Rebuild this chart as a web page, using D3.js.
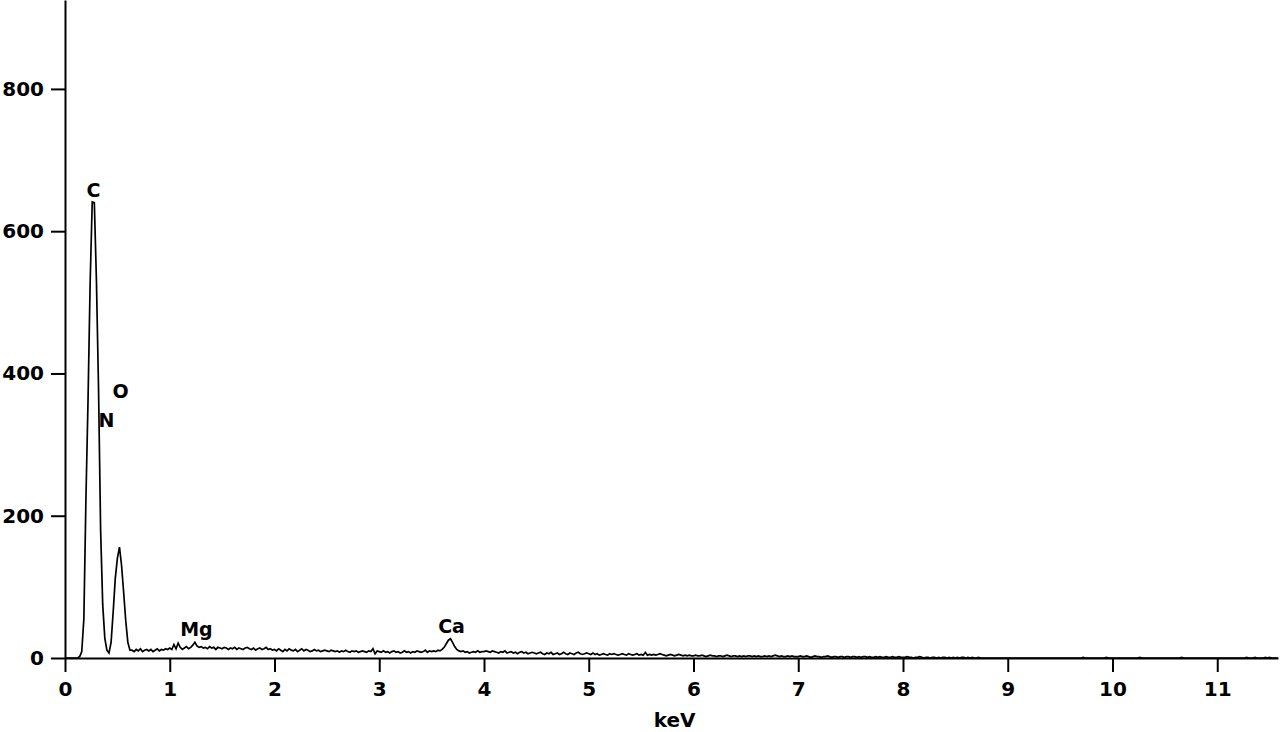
<!DOCTYPE html>
<html>
<head>
<meta charset="utf-8">
<script src="https://cdn.jsdelivr.net/npm/d3@7"></script>
<style>
  body { margin: 0; background: #fff; }
  svg { display: block; font-family: "DejaVu Sans", Verdana, sans-serif; }
</style>
</head>
<body>
<svg id="chart" width="1280" height="732"></svg>
<script>
//  channel width of the spectrum (keV)
const channel_kev = 0.02;

//  counts per channel, starting at 0 keV
const counts_peaks = [
  0, 0, 0, 0, 0, 0, 0, 2, 9, 55, 225, 363, 527, 641, 640, 531,
  380, 180, 75, 28, 11, 7, 22, 65, 112, 140, 156, 130, 92, 52, 22, 11
];
const counts_low = [
  11, 9, 12, 10, 13, 9, 11, 12, 10, 12, 9, 11, 13, 10, 12, 11, 13, 12,
  14, 12, 19, 13, 21, 15, 12, 14, 16, 13, 15, 18, 22, 17, 15, 16, 14, 15, 13, 16, 14, 15, 12, 15, 14,
  13, 15, 14, 12, 14, 13, 15, 12, 14, 13, 12, 14, 15, 13, 12, 14, 11, 13, 14, 12, 13, 15, 12, 13, 11,
  12, 10, 13, 11, 9, 12, 10, 13, 11, 10, 12, 9, 11, 13, 10, 12, 11, 9, 10, 12, 10, 11, 9, 10, 11,
  10, 9, 11, 10, 9, 10, 8, 10, 9, 11, 9, 8, 10, 9, 10, 8, 9, 10, 9, 8, 10, 9, 13, 6, 10,
  9, 8, 10, 8, 9, 7, 9, 10, 8, 9, 7, 8, 10, 8, 9, 7, 9, 8, 10, 9, 8, 9, 11, 8, 10,
  9, 10, 9, 11, 10, 12, 15, 20, 25, 27, 22, 16, 12, 10, 9, 10, 8, 9, 7, 8, 9, 8, 10, 8, 9,
  9, 10, 9, 8, 10, 9, 8, 7, 9, 8, 10, 7, 8, 9, 7, 8, 6, 8, 9, 7, 8, 6, 7, 8, 7,
  6, 7, 8, 6, 5, 7, 6, 8, 5, 6, 7, 5, 6, 8, 6, 5, 7, 6, 5, 7, 8, 6, 5, 6, 7
];
const counts_high = [
  6, 5, 7, 5, 6, 4, 5, 6, 5, 4, 6, 5, 6, 5, 4, 5, 6, 5, 4, 6, 5, 4, 5, 6, 4,
  5, 4, 8, 4, 5, 4, 5, 4, 5, 6, 5, 4, 3, 4, 5, 4, 3, 4, 5, 4, 3, 4, 3, 4, 3,
  3, 4, 3, 3, 4, 3, 2, 3, 4, 3, 3, 2, 3, 3, 2, 3, 4, 3, 2, 3, 3, 2, 3, 2, 3,
  2, 3, 3, 2, 3, 2, 3, 2, 2, 3, 2, 3, 2, 3, 4, 3, 2, 3, 2, 2, 3, 2, 3, 2, 2,
  2, 3, 2, 2, 3, 2, 1, 2, 3, 2, 2, 1, 2, 2, 3, 2, 1, 2, 2, 1, 2, 2, 1, 2, 2,
  1, 2, 2, 1, 2, 1, 2, 2, 1, 2, 1, 1, 2, 1, 2, 1, 1, 2, 1, 1, 2, 1, 1, 2, 1,
  1, 1, 2, 1, 1, 0, 1, 1, 2, 1, 0, 1, 1, 0, 1, 1, 0, 1, 0, 1, 1, 0, 1, 0, 1,
  0, 1, 0, 1, 1, 0, 1, 0, 1, 0, 0, 1, 0, 0, 0, 0, 0, 0, 0, 0, 0, 0, 0, 0, 0,
  0, 0, 0, 0, 0, 0, 0, 0, 0, 0, 0, 0, 0, 0, 0, 0, 0, 0, 0, 0, 0, 0, 0, 0, 0,
  0, 0, 0, 0, 0, 0, 0, 0, 0, 0, 0, 1, 0, 0, 0, 0, 0, 0, 0, 0, 0, 0, 1, 0, 0,
  0, 0, 0, 0, 0, 0, 0, 0, 0, 0, 0, 0, 0, 1, 0, 0, 0, 0, 0, 0, 0, 0, 0, 0, 0,
  0, 0, 0, 0, 0, 0, 0, 0, 1, 0, 0, 0, 0, 0, 0, 0, 0, 0, 0, 0, 0, 0, 0, 0, 0,
  0, 0, 0, 0, 0, 0, 0, 0, 0, 0, 0, 0, 0, 0, 1, 0, 0, 0, 1, 0, 0, 0, 0, 1, 0,
  1, 0, 0, 0, 0
];

//  element labels (energy in keV, label height in counts)
const element_names  = ["C", "N", "O", "Mg", "Ca"];
const element_kev    = [0.272, 0.396, 0.530, 1.255, 3.69];
const element_counts = [648, 325, 366, 31, 35];

const x_ticks = [0, 1, 2, 3, 4, 5, 6, 7, 8, 9, 10, 11];
const y_ticks = [0, 200, 400, 600, 800];
const x_max = 11.58;
const y_max = 925;
const x_title = "keV";

function draw_spectrum() {
  const margin = ({top: 0, right: 2, bottom: 74, left: 65});
  const w = 1280, h = 732;
  const svg = d3.select("#chart");

  const counts = counts_peaks.concat(counts_low, counts_high);
  const data = counts.map((c, i) => ({e: i * channel_kev, c: c}));

  const x = d3.scaleLinear().domain([0, x_max]).range([margin.left, w - margin.right]);
  const y = d3.scaleLinear().domain([0, y_max]).range([h - margin.bottom, margin.top]);

  const xAxis = g => g
    .attr("transform", `translate(0,${h - margin.bottom})`)
    .call(d3.axisBottom(x).tickValues(x_ticks).tickFormat(d3.format("d"))
      .tickSize(14).tickSizeOuter(0).tickPadding(10));

  const yAxis = g => g
    .attr("transform", `translate(${margin.left},0)`)
    .call(d3.axisLeft(y).tickValues(y_ticks).tickFormat(d3.format("d"))
      .tickSize(14).tickSizeOuter(0).tickPadding(7));

  //  spectrum
  svg.append("path")
    .datum(data)
    .attr("fill", "none")
    .attr("stroke", "#000")
    .attr("stroke-width", 1.7)
    .attr("d", d3.line().x(d => x(d.e)).y(d => y(d.c)));

  [xAxis, yAxis].forEach(ax => {
    const g = svg.append("g").call(ax);
    g.selectAll("path, line").attr("stroke", "#000").attr("stroke-width", 2);
    g.selectAll("text")
      .attr("fill", "#000")
      .style("font-size", "20px")
      .style("font-weight", "bold")
      .style("font-family", "'DejaVu Sans', Verdana, sans-serif");
  });

  svg.append("text")
    .attr("x", x(5.82))
    .attr("y", h - 5)
    .attr("text-anchor", "middle")
    .style("font-size", "20px")
    .style("font-weight", "bold")
    .text(x_title);

  element_names.forEach((name, i) => {
    svg.append("text")
      .attr("x", x(element_kev[i]))
      .attr("y", y(element_counts[i]))
      .attr("text-anchor", "middle")
      .style("font-size", "19px")
      .style("font-weight", "bold")
      .text(name);
  });
}

draw_spectrum();
</script>
</body>
</html>
